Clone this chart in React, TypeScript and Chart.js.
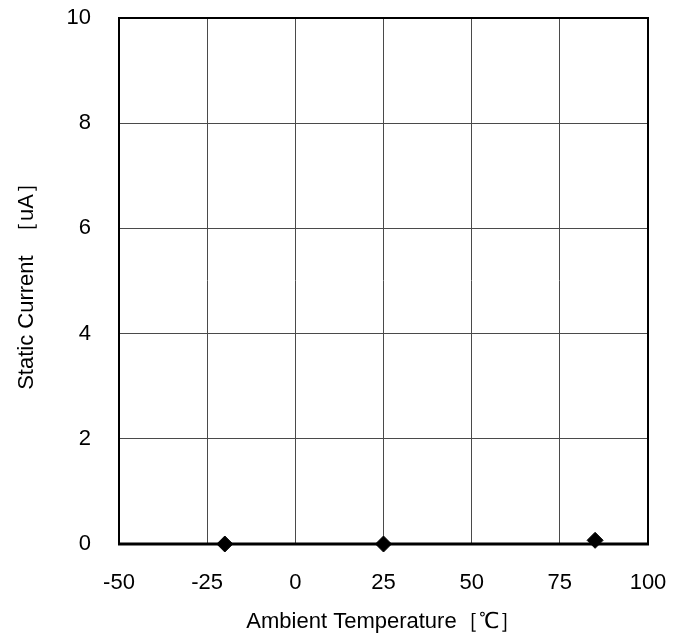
import React, { useEffect, useRef } from "react";
import { Chart, registerables } from "chart.js";

Chart.register(...registerables);

const temperatures = [-20, 25, 85];
const currents = [0, 0, 0.07];
const xTicks = [-50, -25, 0, 25, 50, 75, 100];
const yTicks = [0, 2, 4, 6, 8, 10];
const xTitle = "Ambient Temperature［℃］";
const yTitle = "Static Current  ［uA］";

const FONT = "'Liberation Sans', Arial, sans-serif";

export default function App() {
  const ref = useRef<HTMLCanvasElement | null>(null);

  useEffect(() => {
    if (!ref.current) return;
    const chart = new Chart(ref.current, {
      type: "scatter",
      data: {
        datasets: [
          {
            data: temperatures.map((t, i) => ({ x: t, y: currents[i] })),
            showLine: false,
            borderColor: "#000",
            backgroundColor: "#000",
            pointBorderWidth: 1,
            pointStyle: "rectRot",
            pointRadius: 8,
            pointHoverRadius: 8,
            clip: false,
          },
        ],
      },
      options: {
        animation: false,
        responsive: true,
        maintainAspectRatio: false,
        layout: { padding: { left: 0, top: 18, right: 38, bottom: 0 } },
        plugins: { legend: { display: false }, tooltip: { enabled: false } },
        scales: {
          x: {
            type: "linear",
            min: xTicks[0],
            max: xTicks[xTicks.length - 1],
            afterBuildTicks: (s: any) => {
              s.ticks = xTicks.map((v) => ({ value: v }));
            },
            afterFit: (s: any) => {
              s.height = 99;
              s.paddingLeft = 0;
              s.paddingRight = 0;
            },
            grid: { color: "#4a4a4a", lineWidth: 1, drawTicks: false },
            border: { color: "#000", width: 2 },
            ticks: {
              color: "#000",
              font: { family: FONT, size: 22 },
              padding: 26,
              maxRotation: 0,
            },
            title: {
              display: true,
              text: xTitle,
              color: "#000",
              font: { family: FONT, size: 22 },
              padding: { top: 0, bottom: 8 },
            },
          },
          y: {
            type: "linear",
            min: yTicks[0],
            max: yTicks[yTicks.length - 1],
            afterBuildTicks: (s: any) => {
              s.ticks = yTicks.map((v) => ({ value: v }));
            },
            afterFit: (s: any) => {
              s.width = 119;
              s.paddingTop = 0;
              s.paddingBottom = 0;
            },
            grid: { color: "#4a4a4a", lineWidth: 1, drawTicks: false },
            border: { color: "#000", width: 2 },
            ticks: {
              color: "#000",
              font: { family: FONT, size: 22 },
              padding: 28,
            },
            title: {
              display: true,
              text: yTitle,
              color: "#000",
              font: { family: FONT, size: 22 },
              padding: { top: 14, bottom: 0 },
            },
          },
        },
      },
      plugins: [
        {
          id: "frame",
          beforeDatasetsDraw(c: any) {
            const { ctx, chartArea } = c;
            ctx.save();
            ctx.strokeStyle = "#000";
            ctx.lineWidth = 2;
            ctx.strokeRect(
              chartArea.left,
              chartArea.top,
              chartArea.right - chartArea.left,
              chartArea.bottom - chartArea.top
            );
            ctx.lineWidth = 3;
            ctx.beginPath();
            ctx.moveTo(chartArea.left - 1, chartArea.bottom);
            ctx.lineTo(chartArea.right + 1, chartArea.bottom);
            ctx.stroke();
            ctx.restore();
          },
        },
      ],
    });
    return () => chart.destroy();
  }, []);

  return (
    <div
      style={{
        position: "fixed",
        left: 0,
        top: 0,
        width: 686,
        height: 643,
        background: "#fff",
      }}
    >
      <canvas ref={ref} />
    </div>
  );
}
